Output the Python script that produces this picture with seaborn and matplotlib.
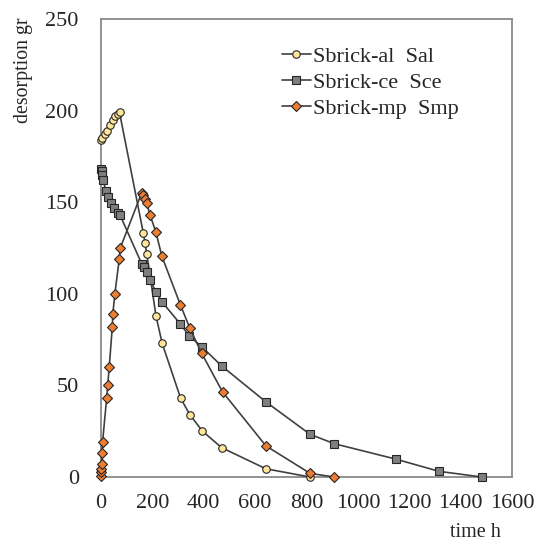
import matplotlib
matplotlib.use("Agg")
import matplotlib.pyplot as plt
import seaborn as sns
import pandas as pd

# Desorption curves for the three brick samples (time in hours, desorption in grams)
sal_t = [0, 5, 15, 25, 35, 45, 55, 65, 72, 165, 171, 178, 214, 238, 310, 346, 395, 470, 642, 814]
sal_v = [184, 185, 187, 189, 192, 195, 197, 198, 199, 133, 128, 122, 88, 73, 43, 34, 25, 16, 4.5, 0]

sce_t = [0, 2, 5, 8, 20, 28, 40, 52, 65, 74, 158, 168, 178, 191, 214, 238, 309, 344, 393, 470,
         642, 814, 908, 1147, 1316, 1483]
sce_v = [168, 167, 165, 162, 156, 153, 149.5, 147, 144, 143, 116.5, 114.5, 112, 107.5, 101, 95.5,
         83.5, 77, 71, 60.6, 41, 23.3, 18.2, 9.8, 3.1, 0]

smp_t = [0, 0, 1, 3, 5, 6, 22, 26, 32, 44, 46, 54, 71, 75, 158, 165, 172, 178, 191, 214, 237,
         309, 345, 392, 473, 642, 814, 908]
smp_v = [0.5, 2.5, 4.5, 7, 13, 19, 43, 50, 60, 82, 89, 100, 119, 125, 155, 154, 152, 149.5, 143,
         133.5, 120.5, 94, 81.5, 67.5, 46.5, 17, 2, 0]

labels = ["Sbrick-al  Sal", "Sbrick-ce  Sce", "Sbrick-mp  Smp"]
x_ticks = [0, 200, 400, 600, 800, 1000, 1200, 1400, 1600]
y_ticks = [0, 50, 100, 150, 200, 250]

sns.set_style("white")
plt.rcParams["font.family"] = ["Liberation Serif", "DejaVu Serif"]

fig = plt.figure(figsize=(5.35, 5.43), dpi=100)
ax = fig.add_axes([0.1888, 0.1215, 0.7682, 0.8435])

series = [
    (sal_t, sal_v, labels[0], "o", "#FFE699", 5.4),
    (sce_t, sce_v, labels[1], "s", "#7F7F7F", 6.0),
    (smp_t, smp_v, labels[2], "D", "#ED7D31", 4.8),
]
line_col = "#404040"
for t, v, lab, mk, fc, ms in series:
    df = pd.DataFrame({"time": t, "desorption": v})
    sns.lineplot(data=df, x="time", y="desorption", ax=ax, estimator=None, sort=False,
                 color=line_col, linewidth=1.2, marker=mk, markersize=ms,
                 markerfacecolor=fc, markeredgecolor="#262626", markeredgewidth=0.8,
                 label=lab, clip_on=False, zorder=3)

ax.set_xlim(0, 1600)
ax.set_ylim(0, 250)
ax.set_xticks(x_ticks)
ax.set_yticks(y_ticks)
ax.tick_params(axis="both", length=0, labelsize=16, colors="#262626")
ax.tick_params(axis="y", pad=16)
ax.tick_params(axis="x", pad=12)

for s in ax.spines.values():
    s.set_color("#898989")
    s.set_linewidth(1.3)
    s.set_visible(True)

ax.set_ylabel("desorption gr", fontsize=14.3, color="#262626")
ax.yaxis.set_label_coords(-0.165, 0.888)
ax.set_xlabel("time h", fontsize=14.5, color="#262626")
ax.xaxis.set_label_coords(0.91, -0.100)

leg = ax.legend(loc="upper left", bbox_to_anchor=(0.44, 0.94), frameon=False,
                fontsize=16, handlelength=1.3, handletextpad=0.1, labelspacing=0.25,
                borderpad=0, borderaxespad=0)

fig.savefig("out.png", dpi=100)
